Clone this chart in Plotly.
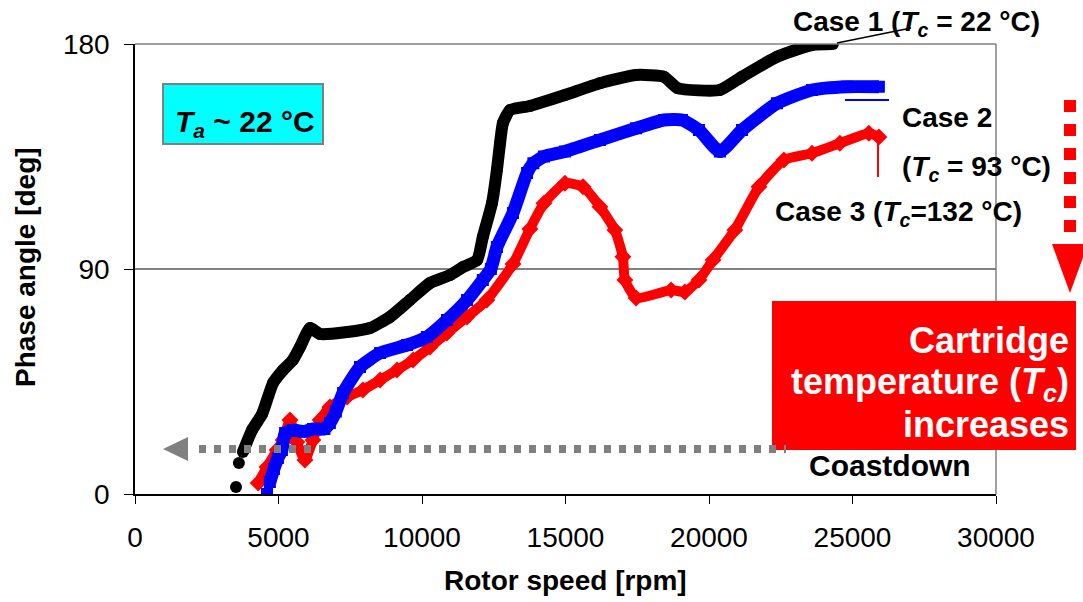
import plotly.graph_objects as go

# ---------------- data ----------------
rpm_case1 = [3520, 3620, 3760, 4080, 4430, 4810, 5160, 5500, 5750, 6100, 6450, 7390, 8190, 8880,
             9580, 10280, 10980, 11430, 11920, 12120, 12440, 12610, 12720, 12820, 13070, 13760,
             14980, 16200, 17460, 18430, 18920, 20380, 21150, 22370, 23590, 24320]
deg_case1 = [2.8, 12.4, 16.8, 25.6, 32, 44.4, 49.6, 53.6, 58.8, 66.4, 64, 64.8, 66.4, 70.8,
             77.6, 84.4, 87.6, 90.8, 93.6, 102.8, 116.4, 129.6, 140.4, 148.4, 153.6, 155.2,
             159.6, 164.3, 167.6, 166.9, 162.3, 161.6, 166.9, 174.9, 179.6, 180]

rpm_case2 = [4600, 4700, 4840, 4980, 5120, 5230, 5500, 5900, 6200, 6600, 6790, 7000, 7250, 7840,
             8540, 9480, 10170, 10870, 11570, 12120, 12400, 12610, 13170, 13660, 13880, 14250,
             14980, 16200, 17460, 18430, 19060, 19650, 20380, 21150, 22370, 23590, 24810, 25920]
deg_case2 = [0, 4.8, 10, 14.4, 17.6, 24.4, 25.5, 25, 26, 26, 28.4, 33, 40.4, 50.8,
             56.4, 59.6, 62.8, 69.6, 77.6, 85.6, 90, 98.8, 112.4, 128.4, 132.3, 135,
             137, 141.6, 146.3, 149.6, 149.6, 145.6, 137, 145.6, 156.3, 161.6, 162.9, 162.9]

rpm_case3 = [4290, 4600, 4950, 5160, 5400, 5640, 5920, 6200, 6450, 6790, 7390, 7940, 8540, 9130,
             9690, 10280, 10870, 11570, 12260, 13170, 13760, 14250, 14980, 15610, 16200, 16720,
             17000, 17070, 17460, 18680, 19160, 19650, 20140, 20900, 21740, 22610, 23590, 24560,
             25570, 25920]
deg_case3 = [4.4, 10.8, 17.6, 21.6, 29.6, 20.8, 13.6, 21.6, 29.6, 34.8, 38.8, 41.6, 45.6, 49.6,
             53.6, 58.8, 64.4, 70.8, 77.6, 92, 106, 116.3, 124.3, 122.9, 114.9, 105.6,
             94.9, 85.6, 78.4, 81.6, 80.8, 85.6, 93.6, 105.6, 122.9, 133.6, 136.3, 140.3,
             144.3, 142.8]

x_ticks = [0, 5000, 10000, 15000, 20000, 25000, 30000]
y_ticks = [0, 90, 180]

# ---------------- layout helpers (pixel -> paper) ----------------
W, H = 1083, 602
L, R, T, B = 135, 996, 44, 494
FONT = "Liberation Sans, Arial, sans-serif"


def px(x):
    return (x - L) / (R - L)


def py(y):
    return (B - y) / (B - T)


fig = go.Figure()

# Case 3 (red diamonds)
fig.add_trace(go.Scatter(x=rpm_case3, y=deg_case3, mode="lines",
                         line=dict(color="#FF0000", width=10, shape="spline", smoothing=0.5),
                         hoverinfo="skip", showlegend=False))
fig.add_trace(go.Scatter(x=rpm_case3, y=deg_case3, mode="markers",
                         marker=dict(symbol="diamond", size=13, color="#FF0000"),
                         hoverinfo="skip", showlegend=False))
# Case 2 (blue squares)
fig.add_trace(go.Scatter(x=rpm_case2[1:], y=deg_case2[1:], mode="lines",
                         line=dict(color="#0000FF", width=13, shape="spline", smoothing=0.5),
                         hoverinfo="skip", showlegend=False))
fig.add_trace(go.Scatter(x=rpm_case2, y=deg_case2, mode="markers",
                         marker=dict(symbol="square", size=12, color="#0000FF"),
                         hoverinfo="skip", showlegend=False))
# Case 1 (black circles)
fig.add_trace(go.Scatter(x=rpm_case1[2:], y=deg_case1[2:], mode="lines",
                         line=dict(color="#000000", width=12, shape="spline", smoothing=0.5),
                         hoverinfo="skip", showlegend=False))
fig.add_trace(go.Scatter(x=rpm_case1, y=deg_case1, mode="markers",
                         marker=dict(symbol="circle", size=12, color="#000000"),
                         hoverinfo="skip", showlegend=False))

shapes = []
# gridline at 90 and gray plot border (top/right)
shapes.append(dict(type="line", xref="paper", yref="y", x0=0, x1=1, y0=90, y1=90,
                   line=dict(color="#000000", width=1), layer="below"))
shapes.append(dict(type="line", xref="paper", yref="paper", x0=0, x1=1, y0=1, y1=1,
                   line=dict(color="#808080", width=1.5)))
shapes.append(dict(type="line", xref="paper", yref="paper", x0=1, x1=1, y0=0, y1=1,
                   line=dict(color="#808080", width=1.5)))

# cyan box
shapes.append(dict(type="rect", xref="paper", yref="paper",
                   x0=px(163), x1=px(323), y0=py(144), y1=py(84),
                   fillcolor="#00FFFF", line=dict(color="#808080", width=2)))
# red box
shapes.append(dict(type="rect", xref="paper", yref="paper",
                   x0=px(772), x1=px(1076), y0=py(450), y1=py(301),
                   fillcolor="#FF0000", line=dict(width=0)))
# gray dotted coastdown arrow
shapes.append(dict(type="line", xref="paper", yref="paper",
                   x0=px(199), x1=px(786), y0=py(449), y1=py(449),
                   line=dict(color="#808080", width=8, dash="7px,8px")))
shapes.append(dict(type="path", xref="paper", yref="paper",
                   path=f"M {px(163)},{py(449)} L {px(188)},{py(437)} L {px(188)},{py(461)} Z",
                   fillcolor="#808080", line=dict(width=0)))
# red dotted temperature arrow
shapes.append(dict(type="line", xref="paper", yref="paper",
                   x0=px(1070), x1=px(1070), y0=py(100), y1=py(243),
                   line=dict(color="#FF0000", width=12, dash="12px,12px")))
shapes.append(dict(type="path", xref="paper", yref="paper",
                   path=f"M {px(1052)},{py(244)} L {px(1088)},{py(244)} L {px(1070)},{py(293)} Z",
                   fillcolor="#FF0000", line=dict(width=0)))
# leader lines
shapes.append(dict(type="line", xref="paper", yref="paper",
                   x0=px(837), x1=px(911), y0=py(43), y1=py(28),
                   line=dict(color="#000000", width=1.5)))
shapes.append(dict(type="line", xref="paper", yref="paper",
                   x0=px(845), x1=px(889), y0=py(100), y1=py(100),
                   line=dict(color="#0000FF", width=2)))
shapes.append(dict(type="line", xref="paper", yref="paper",
                   x0=px(878), x1=px(878), y0=py(142), y1=py(177),
                   line=dict(color="#FF0000", width=2)))


def ann(text, x, y, size, color="#000000", xanchor="left", **kw):
    d = dict(text=text, xref="paper", yref="paper", x=px(x), y=py(y),
             xanchor=xanchor, yanchor="middle", showarrow=False,
             font=dict(family=FONT, size=size, color=color))
    d.update(kw)
    return d


annotations = [
    ann("<b>Case 1 (<i>T<sub>c</sub></i> = 22 °C)</b>", 791, 23, 28),
    ann("<b>Case 2</b>", 900, 117, 28),
    ann("<b>(<i>T<sub>c</sub></i> = 93 °C)</b>", 900, 168, 28),
    ann("<b>Case 3 (<i>T<sub>c</sub></i>=132 °C)</b>", 773, 213, 28),
    ann("<b><i>T<sub>a</sub></i> ~ 22 °C</b>", 173, 123, 30),
    ann("<b>Coastdown</b>", 807, 465, 30),
    ann("<b>Cartridge</b>", 1071, 340, 36, color="#FFFFFF", xanchor="right"),
    ann("<b>temperature (<i>T<sub>c</sub></i>)</b>", 1071, 384, 36, color="#FFFFFF", xanchor="right"),
    ann("<b>increases</b>", 1071, 424, 36, color="#FFFFFF", xanchor="right"),
    ann("<b>Rotor speed [rpm]</b>", 565, 580, 28, xanchor="center"),
    ann("<b>Phase angle [deg]</b>", 25, 267, 28, xanchor="center", textangle=-90),
]

fig.update_layout(
    width=W, height=H,
    margin=dict(l=L, r=W - R, t=T, b=H - B, pad=0),
    paper_bgcolor="#FFFFFF", plot_bgcolor="#FFFFFF",
    font=dict(family=FONT, size=28, color="#000000"),
    shapes=shapes, annotations=annotations,
    xaxis=dict(range=[0, 30000], tickvals=x_ticks, ticktext=[str(v) for v in x_ticks],
               showgrid=False, zeroline=False, showline=True, linecolor="#000000", linewidth=1.5,
               ticks="outside", ticklen=8, tickwidth=1, tickcolor="#000000", ticklabelstandoff=10,
               tickfont=dict(family=FONT, size=28, color="#000000")),
    yaxis=dict(range=[0, 180], tickvals=y_ticks, ticktext=[str(v) for v in y_ticks],
               showgrid=False, zeroline=False, showline=True, linecolor="#000000", linewidth=1.5,
               ticks="outside", ticklen=9, tickwidth=1, tickcolor="#000000", ticklabelstandoff=9,
               tickfont=dict(family=FONT, size=28, color="#000000")),
)

fig.write_html("out.html", config={"displayModeBar": False})
